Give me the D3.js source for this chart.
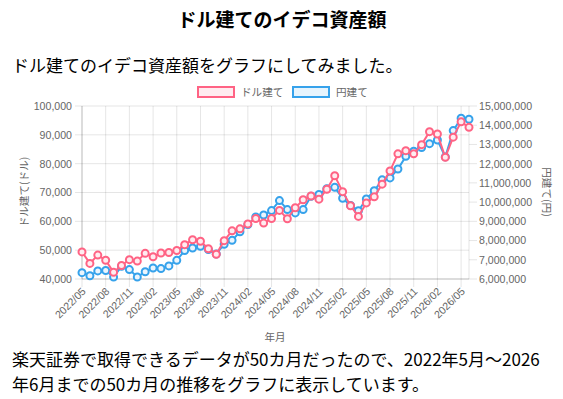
<!DOCTYPE html>
<html><head><meta charset="utf-8">
<script src="https://cdn.jsdelivr.net/npm/d3@7"></script>
<style>
html,body{margin:0;padding:0;background:#fff;}
svg{display:block;}
</style></head>
<body><svg id="c" width="563" height="399"></svg>
<script>
const months = ["2022/05","2022/06","2022/07","2022/08","2022/09","2022/10","2022/11","2022/12",
"2023/01","2023/02","2023/03","2023/04","2023/05","2023/06","2023/07","2023/08","2023/09","2023/10","2023/11","2023/12",
"2024/01","2024/02","2024/03","2024/04","2024/05","2024/06","2024/07","2024/08","2024/09","2024/10","2024/11","2024/12",
"2025/01","2025/02","2025/03","2025/04","2025/05","2025/06","2025/07","2025/08","2025/09","2025/10","2025/11","2025/12",
"2026/01","2026/02","2026/03","2026/04","2026/05","2026/06"];
const dollarValues = [49400,45400,48300,46500,42300,44700,46700,46200,48900,47700,49000,49200,49900,51900,53600,53100,50500,48600,53300,56700,
57400,59100,61000,59400,61000,63800,60900,64700,67500,68800,67700,71100,75800,70300,65400,61700,66400,68500,72900,77500,
83400,84500,83400,86600,91100,90300,82200,89200,94500,92600];
const yenValues = [6330000,6170000,6420000,6440000,6100000,6660000,6490000,6100000,6380000,6570000,6540000,6680000,6970000,7480000,7610000,7700000,7530000,7300000,7810000,8010000,
8460000,8830000,9230000,9330000,9560000,10080000,9610000,9440000,9610000,10300000,10400000,10700000,10770000,10200000,9830000,9550000,10160000,10590000,11160000,11260000,
11720000,12380000,12650000,12840000,13040000,13230000,12350000,13720000,14360000,14310000];
const leftTicks = [40000,50000,60000,70000,80000,90000,100000];
const rightTicks = [6000000,7000000,8000000,9000000,10000000,11000000,12000000,13000000,14000000,15000000];
const xTickLabels = months.filter((m,i)=>i%3===0);
const seriesNames = ["ドル建て","円建て"];
const titleText = "ドル建てのイデコ資産額";
const introText = "ドル建てのイデコ資産額をグラフにしてみました。";
const footLines = ["楽天証券で取得できるデータが50カ月だったので、2022年5月〜2026","年6月までの50カ月の推移をグラフに表示しています。"];

const pink = "rgb(255,99,132)", pinkFill = "rgba(255,99,132,0.12)";
const blue = "rgb(54,162,235)", blueFill = "rgba(54,162,235,0.12)";
const jp = "'Noto Sans CJK JP','Noto Sans',sans-serif";
const num = "'Liberation Sans',Arial,sans-serif";
const grid = "rgba(0,0,0,0.1)";
const fs = 10.6;

const svg = d3.select("#c");
const L=82, R=469, T=106, B=279;
const x = d3.scalePoint().domain(months).range([L,R]);
const yL = d3.scaleLinear().domain([40000,100000]).range([B,T]);
const yR = d3.scaleLinear().domain([6000000,15000000]).range([B,T]);
const fmt = d3.format(",");

// titles
svg.append("text").attr("x",282).attr("y",27).attr("text-anchor","middle")
  .attr("font-family",jp).attr("font-weight","bold").attr("font-size",19).attr("fill","#000").text(titleText);
svg.append("text").attr("x",12).attr("y",72).attr("font-family",jp).attr("font-size",17).attr("fill","#000").text(introText);
footLines.forEach((t,i)=>svg.append("text").attr("x",12).attr("y",366+i*25).attr("font-family",jp).attr("font-size",17).attr("fill","#000").text(t));

// legend
const legend = [{n:seriesNames[0],c:pink,f:pinkFill,x:198},{n:seriesNames[1],c:blue,f:blueFill,x:293}];
legend.forEach(d=>{
  svg.append("rect").attr("x",d.x).attr("y",87).attr("width",36).attr("height",10).attr("fill",d.f).attr("stroke",d.c).attr("stroke-width",2);
  svg.append("text").attr("x",d.x+43).attr("y",96).attr("font-family",jp).attr("font-size",fs).attr("fill","#666").text(d.n);
});

// grid
const g = svg.append("g");
g.selectAll(".hg").data(leftTicks).join("line").attr("x1",L-7).attr("x2",R).attr("y1",d=>yL(d)).attr("y2",d=>yL(d)).attr("stroke",grid);
g.selectAll(".vg").data(xTickLabels).join("line").attr("x1",d=>x(d)).attr("x2",d=>x(d)).attr("y1",T).attr("y2",B+8).attr("stroke",grid);
g.selectAll(".rt").data(rightTicks).join("line").attr("x1",R).attr("x2",R+8).attr("y1",d=>yR(d)).attr("y2",d=>yR(d)).attr("stroke",grid);
g.append("line").attr("x1",L).attr("x2",L).attr("y1",T).attr("y2",B).attr("stroke","rgba(0,0,0,0.18)");
g.append("line").attr("x1",R).attr("x2",R).attr("y1",T).attr("y2",B).attr("stroke","rgba(0,0,0,0.1)");
g.append("line").attr("x1",L).attr("x2",R).attr("y1",B).attr("y2",B).attr("stroke","rgba(0,0,0,0.18)");

// axis labels
const axL = d3.axisLeft(yL).tickValues(leftTicks).tickFormat(fmt).tickSize(0).tickPadding(10);
const gl = svg.append("g").attr("transform",`translate(${L},0)`).call(axL);
const axR = d3.axisRight(yR).tickValues(rightTicks).tickFormat(fmt).tickSize(0).tickPadding(10);
const gr = svg.append("g").attr("transform",`translate(${R},0)`).call(axR);
[gl,gr].forEach(a=>{a.select(".domain").remove(); a.selectAll("text").attr("font-family",num).attr("font-size",fs).attr("fill","#666");});
const axB = d3.axisBottom(x).tickValues(xTickLabels).tickSize(0);
const gb = svg.append("g").attr("transform",`translate(0,${B})`).call(axB);
gb.select(".domain").remove();
gb.selectAll("text").attr("font-family",num).attr("font-size",fs).attr("fill","#666")
  .attr("text-anchor","end").attr("dy",0).attr("y",0)
  .attr("transform","translate(4,13) rotate(-45)");

svg.append("text").attr("transform","translate(24,192) rotate(-90)").attr("text-anchor","middle")
  .attr("font-family",jp).attr("font-size",fs).attr("fill","#666").attr("dy","0.35em").text("ドル建て(ドル)");
svg.append("text").attr("transform","translate(547,192) rotate(90)").attr("text-anchor","middle")
  .attr("font-family",jp).attr("font-size",fs).attr("fill","#666").attr("dy","0.35em").text("円建て(円)");
svg.append("text").attr("x",275).attr("y",341).attr("text-anchor","middle")
  .attr("font-family",jp).attr("font-size",fs).attr("fill","#666").text("年月");

// series
function drawSeries(vals, ys, col, fill){
  const s = svg.append("g");
  s.append("path").datum(vals).attr("fill","none").attr("stroke",col).attr("stroke-width",2)
    .attr("d", d3.line().x((d,i)=>x(months[i])).y(d=>ys(d)));
  s.selectAll("circle").data(vals).join("circle").attr("cx",(d,i)=>x(months[i])).attr("cy",d=>ys(d))
    .attr("r",3.5).attr("fill",fill).attr("stroke",col).attr("stroke-width",2);
}
drawSeries(yenValues, yR, blue, "rgba(235,245,253,1)");
drawSeries(dollarValues, yL, pink, "rgba(255,236,240,1)");
</script></body></html>
